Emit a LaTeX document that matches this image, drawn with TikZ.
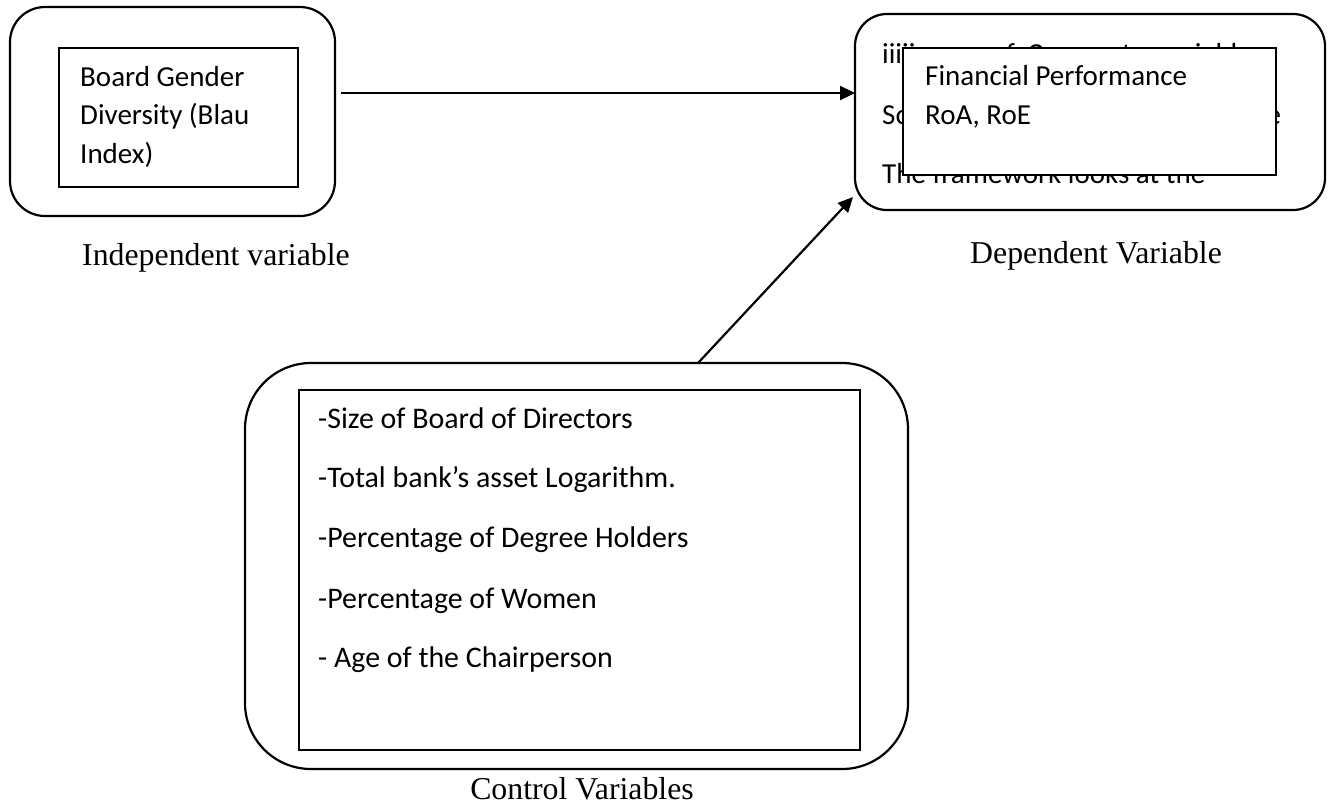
\documentclass[tikz,border=0pt]{standalone}
\usepackage{fontspec}
\setmainfont{Liberation Serif}
\newfontfamily\carl{Carlito}
\usetikzlibrary{arrows.meta}
\begin{document}
\begin{tikzpicture}[x=1pt,y=-1pt,
  outerbox/.style={draw, line width=2.2pt, inner sep=0pt, outer sep=0pt},
  innerbox/.style={draw, line width=1.1pt, inner sep=0pt, outer sep=0pt, anchor=north west},
  tb/.style={anchor=base west, inner sep=0pt, font=\carl\fontsize{29}{35}\selectfont},
  tc/.style={anchor=base west, inner sep=0pt, font=\carl\fontsize{29.9}{35}\selectfont},
  lab/.style={anchor=base, inner sep=0pt, font=\fontsize{31.8}{38}\selectfont},
  arr/.style={line width=2.2pt, -{Triangle[length=15pt,width=14pt]}}]
\useasboundingbox (0,0) rectangle (1332,807);

% outer rounded boxes
\node[outerbox, rounded corners=35pt, minimum width=325pt, minimum height=209pt] (lbox) at (172.5,111.5) {};
\node[outerbox, rounded corners=32pt, minimum width=470pt, minimum height=196pt] (rbox) at (1090,112) {};
\node[outerbox, rounded corners=66pt, minimum width=663pt, minimum height=406pt] (cbox) at (576.5,566) {};

% background text in the dependent box (partly covered)
\node[tb] (bg1) at (882,63) {\makebox[381pt][s]{iiiiiames of Corporate variables}};
\node[tb] (bg2) at (882,124) {\makebox[399pt][s]{Source: Conceptualised from the}};
\node[tb] (bg3) at (882,183) {The framework looks at the};

% inner rectangles
\node[innerbox, minimum width=239pt, minimum height=139pt] (lin) at (59,48) {};
\node[innerbox, fill=white, minimum width=373pt, minimum height=127pt] (rin) at (903,48) {};
\node[innerbox, minimum width=561pt, minimum height=360pt] (cin) at (299,390) {};

% independent text
\node[tb] (l1) at (80,86) {Board Gender};
\node[tb] (l2) at (80,124.5) {Diversity (Blau};
\node[tb] (l3) at (80,163) {Index)};

% dependent text
\node[tb] (r1) at (925,85) {Financial Performance};
\node[tb] (r2) at (925,124) {RoA, RoE};

% control text
\node[tc] (c1) at (318,428) {-Size of Board of Directors};
\node[tc] (c2) at (318,487) {-Total bank’s asset Logarithm.};
\node[tc] (c3) at (318,547) {-Percentage of Degree Holders};
\node[tc] (c4) at (318,608) {-Percentage of Women};
\node[tc] (c5) at (318,667) {- Age of the Chairperson};

% labels
\node[lab] (labI) at (216,265) {Independent variable};
\node[lab] (labD) at (1096,263) {Dependent Variable};
\node[lab] (labC) at (582,799) {Control Variables};

% connectors
\coordinate (s1) at (341,93);
\draw[arr] (s1) -- (s1 -| rbox.west);
\draw[arr] ([xshift=121.5pt]cbox.north) -- ([xshift=-2pt,yshift=13pt]rbox.south west);
\end{tikzpicture}
\end{document}
